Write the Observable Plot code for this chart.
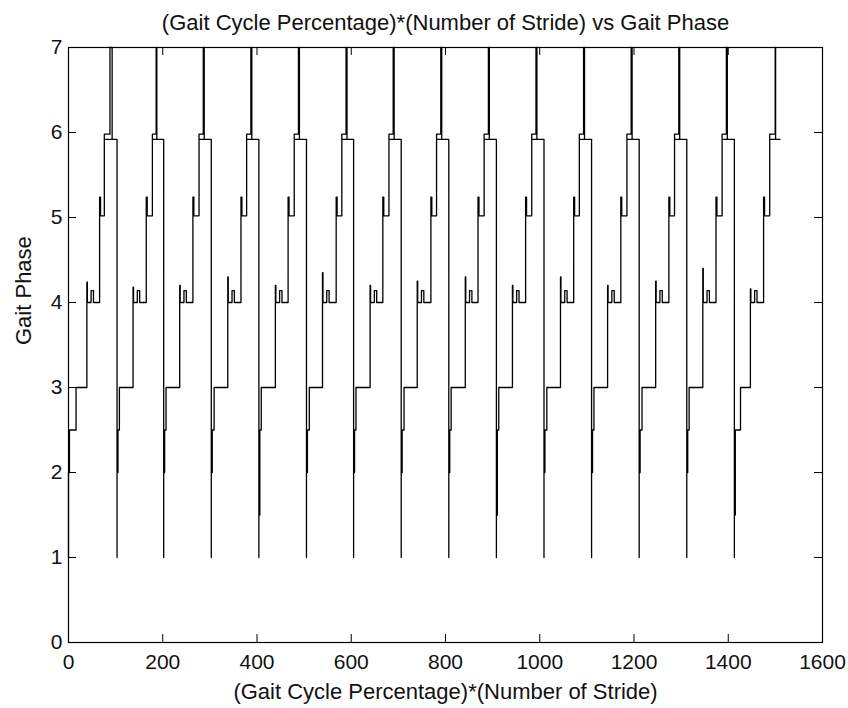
<!DOCTYPE html>
<html><head><meta charset="utf-8">
<script src="https://cdn.jsdelivr.net/npm/d3@7"></script>
<script src="https://cdn.jsdelivr.net/npm/@observablehq/plot@0.6"></script>
<style>html,body{margin:0;padding:0;background:#fff}svg{display:block}</style>
</head><body><div id="chart"></div>
<script>
// ---- data ----
const titleText = "(Gait Cycle Percentage)*(Number of Stride) vs Gait Phase";
const xLabelText = "(Gait Cycle Percentage)*(Number of Stride)";
const yLabelText = "Gait Phase";
const xTicks = [0, 200, 400, 600, 800, 1000, 1200, 1400, 1600];
const yTicks = [0, 1, 2, 3, 4, 5, 6, 7];

// start of each stride (x where phase drops to 1)
const strideStart = [0, 103, 202, 303, 404, 505, 605, 706, 807, 908, 1009, 1110, 1211, 1312, 1413];
const lastX = 1510;
// x (relative to stride start) of each phase transition
const riseTo3  = [16, 5, 5, 6, 5, 6, 5, 6, 5, 5, 6, 5, 6, 5, 13];
const riseTo4  = [39, 34, 34, 35, 35, 34, 35, 34, 35, 34, 35, 34, 35, 34, 34];
const riseTo5  = [66, 62, 62, 63, 62, 63, 62, 63, 62, 62, 63, 62, 63, 62, 62];
const riseTo6  = [76, 75, 75, 75, 75, 75, 75, 75, 75, 75, 75, 75, 75, 75, 75];
const riseTo7  = [88, 83, 84, 84, 84, 84, 84, 84, 84, 84, 84, 84, 84, 84, 86.6];
const fallFrom7= [92.6, 84.5, 86, 86, 86, 86, 86, 86, 86, 86, 86, 86, 86, 86, 87.5];
// lowest value right after reaching phase 2, and overshoot when entering phase 4
const dipLow   = [2, 2, 2, 2, 1.5, 2, 2, 2, 2, 1.5, 2, 2, 2, 2, 1.5];
const spike4   = [4.24, 4.18, 4.2, 4.3, 4.2, 4.35, 4.2, 4.25, 4.3, 4.2, 4.3, 4.2, 4.25, 4.4, 4.16];
// phase levels of one stride
const lv = {one: 1, two: 2, half: 2.5, three: 3, four: 4, fourB: 4.14, fiveHi: 5.24, five: 5.02, sixHi: 5.98, seven: 7, six: 5.92};

// ---- build the polyline table ----
const pts = [];
strideStart.forEach((s, i) => {
  const P = (dx, y) => pts.push({x: s + dx, y});
  P(0, lv.one); P(0, lv.two); P(1, lv.two); P(1, dipLow[i]); P(2, dipLow[i]);
  P(2, lv.half); P(riseTo3[i], lv.half); P(riseTo3[i], lv.three);
  const a = riseTo4[i];
  P(a, lv.three); P(a, spike4[i]); P(a + 1, spike4[i]); P(a + 1, lv.four);
  P(a + 9, lv.four); P(a + 9, lv.fourB); P(a + 14, lv.fourB); P(a + 14, lv.four);
  const b = riseTo5[i];
  P(b, lv.four); P(b, lv.fiveHi); P(b + 2, lv.fiveHi); P(b + 2, lv.five);
  const c = riseTo6[i];
  P(c, lv.five); P(c, lv.sixHi);
  P(riseTo7[i], lv.sixHi); P(riseTo7[i], lv.seven); P(fallFrom7[i], lv.seven); P(fallFrom7[i], lv.six);
  P(c, lv.six);
  const end = i + 1 < strideStart.length ? strideStart[i + 1] : lastX;
  P(end - s, lv.six);
});

// ---- layout ----
const W = 848, H = 708, mL = 68, mR = 26, mT = 47, mB = 66;
const fw = W - mL - mR, fh = H - mT - mB, tk = 8;
const font = "'Liberation Sans', Arial, Helvetica, sans-serif";
const fmt = d => String(d);

const chart = Plot.plot({
  width: W, height: H,
  marginLeft: mL, marginRight: mR, marginTop: mT, marginBottom: mB,
  style: {fontFamily: font, fontSize: "21px", color: "#111", background: "#fff"},
  x: {domain: [0, 1600], ticks: xTicks, tickFormat: fmt},
  y: {domain: [0, 7], ticks: yTicks, tickFormat: fmt},
  marks: [
    Plot.line(pts, {x: "x", y: "y", stroke: "#000", strokeWidth: 1.3}),
    Plot.tickX(xTicks, {x: d => d, insetTop: fh - tk, stroke: "#000"}),
    Plot.tickX(xTicks, {x: d => d, insetBottom: fh - tk, stroke: "#000"}),
    Plot.tickY(yTicks, {y: d => d, insetRight: fw - tk, stroke: "#000"}),
    Plot.tickY(yTicks, {y: d => d, insetLeft: fw - tk, stroke: "#000"}),
    Plot.frame({stroke: "#000", strokeWidth: 1.2}),
    Plot.axisX({ticks: xTicks, tickFormat: fmt, tickSize: 0, tickPadding: 12, label: null, fontSize: 21}),
    Plot.axisY({ticks: yTicks, tickFormat: fmt, tickSize: 0, tickPadding: 6, label: null, fontSize: 21}),
    Plot.text([titleText], {text: d => d, frameAnchor: "top", dy: -25, lineAnchor: "middle", fontSize: 22, fill: "#111"}),
    Plot.text([xLabelText], {text: d => d, frameAnchor: "bottom", dy: 49, lineAnchor: "middle", fontSize: 22, fill: "#111"}),
    Plot.text([yLabelText], {text: d => d, frameAnchor: "left", dx: -45, rotate: -90, lineAnchor: "middle", fontSize: 22, fill: "#111"})
  ]
});
document.getElementById("chart").appendChild(chart);
</script>
</body></html>
